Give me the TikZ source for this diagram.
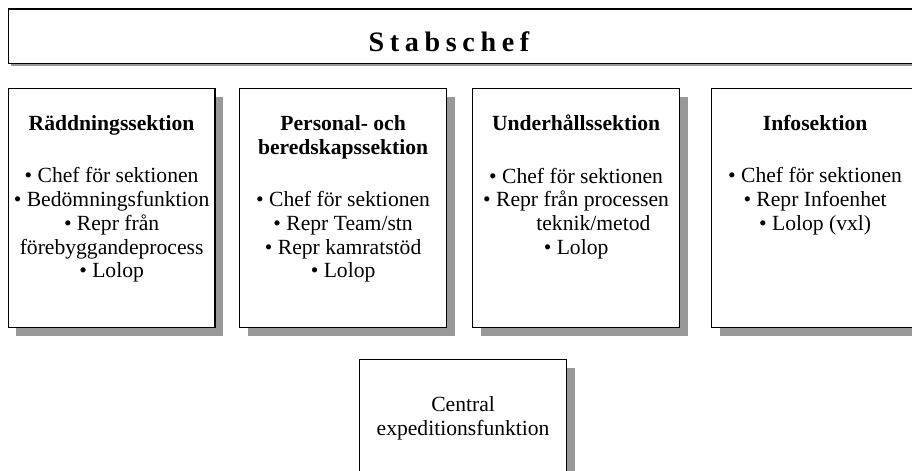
\documentclass[tikz,border=0pt]{standalone}
\usepackage{fontspec}
\setmainfont{Liberation Serif}
\usetikzlibrary{shadows}
\usetikzlibrary{positioning}
\definecolor{shadowgray}{RGB}{153,153,153}
\tikzset{
  sectbox/.style={draw=black, line width=0.7pt, fill=white, anchor=north west,
    minimum width=4.14cm, minimum height=4.78cm,
    drop shadow={shadow xshift=0.16cm, shadow yshift=-0.16cm, fill=shadowgray, opacity=1}},
  sectext/.style={anchor=north, align=center, inner sep=0pt,
    font=\fontsize{12.3}{13.6}\selectfont},
}

\begin{document}
\begin{tikzpicture}[x=0.02cm, y=-0.02cm]
  \useasboundingbox (0,0) rectangle (912,470);
  \clip (0,0) rectangle (912,470);
  % stabschef
  \node [draw=black, line width=0.7pt, fill=white, anchor=north west, minimum width=18.5cm, minimum height=1.09cm,
    drop shadow={shadow xshift=0.06cm, shadow yshift=-0.06cm, fill=shadowgray, opacity=1}] (chef) at (7.5,8.3) {};
  \node [font=\fontsize{16}{19}\bfseries\addfontfeature{LetterSpace=20}] (cheftext) at (449,41.5) {Stabschef};
  % sektioner
  \node [sectbox] (rsek) at (7.5,88) {};
  \node [sectbox] (psek) at (239,88) {};
  \node [sectbox] (usek) at (472,88) {};
  \node [sectbox] (isek) at (711,88) {};
  \node [sectext, below=0.54cm of rsek.north] (rtext) {\textbf{Räddningssektion}\\[16pt]
    • Chef för sektionen\\ • Bedömningsfunktion\\ • Repr från\\ förebyggandeprocess\\ • Lolop};
  \node [sectext, below=0.54cm of psek.north] (ptext) {\textbf{Personal- och}\\ \textbf{beredskapssektion}\\[16pt]
    • Chef för sektionen\\ • Repr Team/stn\\ • Repr kamratstöd\\ • Lolop};
  \node [sectext, below=0.54cm of usek.north] (utext) {\textbf{Underhållssektion}\\[16pt]
    • Chef för sektionen\\ • Repr från processen\\ \hspace*{1.6em}teknik/metod\\ • Lolop};
  \node [sectext, below=0.54cm of isek.north] (itext) {\textbf{Infosektion}\\[16pt]
    • Chef för sektionen\\ • Repr Infoenhet\\ • Lolop (vxl)};
  % expedition
  \node [sectbox, minimum height=2.6cm] (cexp) at (359,359) {};
  \node [sectext, below=0.74cm of cexp.north] (ctext) {Central\\ expeditionsfunktion};
\end{tikzpicture}
\end{document}
